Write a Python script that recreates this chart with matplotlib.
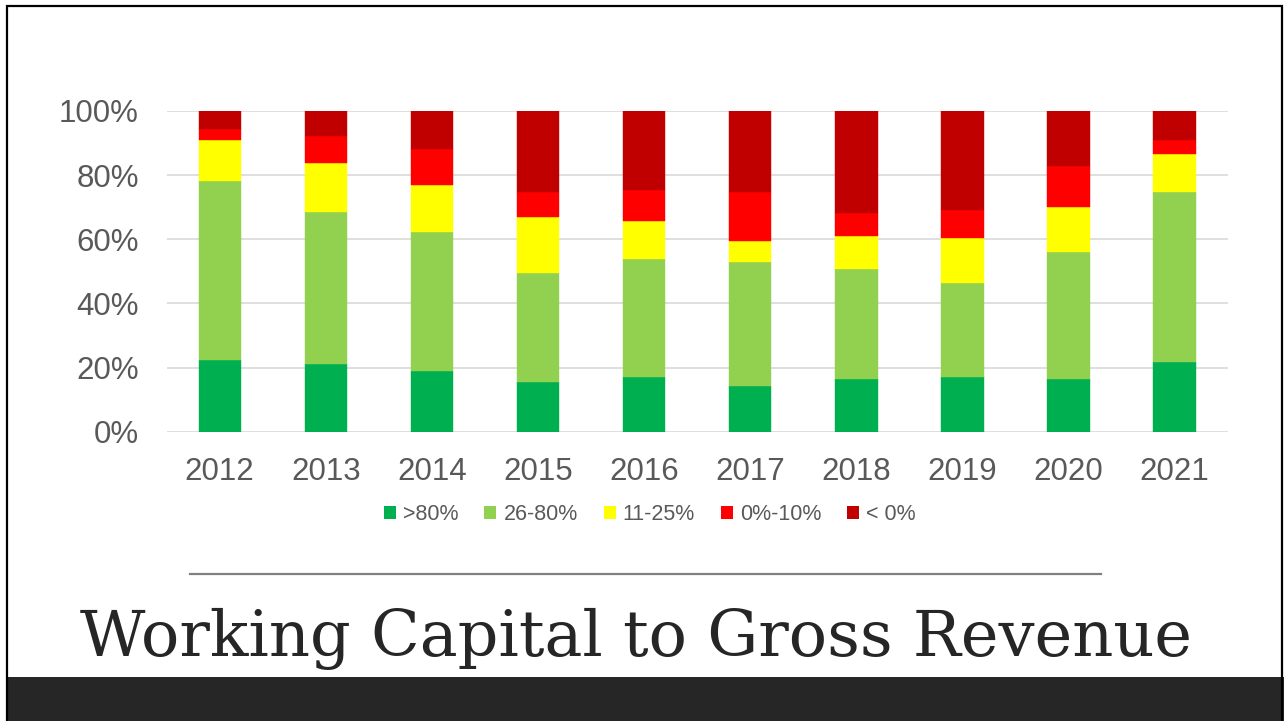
import matplotlib
matplotlib.use("Agg")
import matplotlib.pyplot as plt
from matplotlib.patches import Rectangle, Patch
from matplotlib.lines import Line2D
import numpy as np

years = ["2012", "2013", "2014", "2015", "2016", "2017", "2018", "2019", "2020", "2021"]
series_names = [">80%", "26-80%", "11-25%", "0%-10%", "< 0%"]
gt80 = [22.4, 21.2, 19.0, 15.6, 17.0, 14.2, 16.3, 17.2, 16.4, 21.8]
p26_80 = [55.9, 47.4, 43.3, 34.0, 36.8, 38.7, 34.5, 29.3, 39.7, 52.9]
p11_25 = [12.7, 15.3, 14.7, 17.3, 12.0, 6.7, 10.3, 13.8, 14.1, 11.8]
p0_10 = [3.5, 8.2, 11.1, 7.8, 9.5, 15.1, 7.0, 8.7, 12.6, 4.4]
lt0 = [5.5, 7.9, 11.9, 25.3, 24.7, 25.3, 31.9, 31.0, 17.2, 9.1]
colors = ["#00B050", "#92D050", "#FFFF00", "#FF0000", "#C00000"]
title = "Working Capital to Gross Revenue"

W, H = 1284, 721
fig = plt.figure(figsize=(W / 100, H / 100), dpi=100)
fig.patch.set_facecolor("white")

# slide frame and bottom dark band
fig.add_artist(Rectangle((7 / W, 0), 1 - 7 / W, 44 / H, transform=fig.transFigure,
                         facecolor="#262626", edgecolor="none", zorder=0))
fig.add_artist(Rectangle((7 / W, -0.01), (1282 - 7) / W, 1.01 - 6 / H,
                         transform=fig.transFigure, facecolor="none",
                         edgecolor="black", lw=1.6, zorder=1))

ax = fig.add_axes([166.7 / W, 1 - 431.7 / H, 1061 / W, 320.7 / H])
x = np.arange(len(years))
data = [gt80, p26_80, p11_25, p0_10, lt0]
bottom = np.zeros(len(years))
for vals, name, c in zip(data, series_names, colors):
    vals = np.array(vals)
    ax.bar(x, vals, 0.4, bottom=bottom, color=c, label=name, zorder=3,
           edgecolor=c, linewidth=0.3)
    bottom += vals

ax.set_xlim(-0.5, len(years) - 0.5)
ax.set_ylim(0, 100)
ax.set_yticks([0, 20, 40, 60, 80, 100])
ax.set_yticklabels([f"{v}%" for v in [0, 20, 40, 60, 80, 100]])
ax.set_xticks(x)
ax.set_xticklabels(years)
for s in ax.spines.values():
    s.set_visible(False)
ax.grid(axis="y", color="#D9D9D9", lw=1.2, zorder=0)
ax.tick_params(axis="both", length=0, labelsize=22.5, labelcolor="#595959")
ax.tick_params(axis="y", pad=20)
ax.tick_params(axis="x", pad=18)
for t in ax.get_xticklabels() + ax.get_yticklabels():
    t.set_fontfamily("Liberation Sans")

handles = [Patch(facecolor=c, edgecolor="none") for c in colors]
leg = fig.legend(handles, series_names, loc="center", ncol=5,
                 bbox_to_anchor=(650 / W, 1 - 514.5 / H), frameon=False,
                 prop={"family": "Liberation Sans", "size": 15.5},
                 handlelength=0.56, handleheight=0.56, handletextpad=0.33,
                 columnspacing=1.2)
for t in leg.get_texts():
    t.set_color("#595959")

# separator line
fig.add_artist(Line2D([190 / W, 1101 / W], [1 - 574 / H, 1 - 574 / H],
                      transform=fig.transFigure, color="#808080", lw=1.6))

# title fitted to width
t = fig.text(635.5 / W, 1 - 656 / H, title, ha="center", va="baseline",
             family="DejaVu Serif", fontsize=50, color="#262626")
fig.canvas.draw()
bb = t.get_window_extent()
t.set_fontsize(50 * 1115 / bb.width)

fig.savefig("out.png", dpi=100, facecolor="white")
